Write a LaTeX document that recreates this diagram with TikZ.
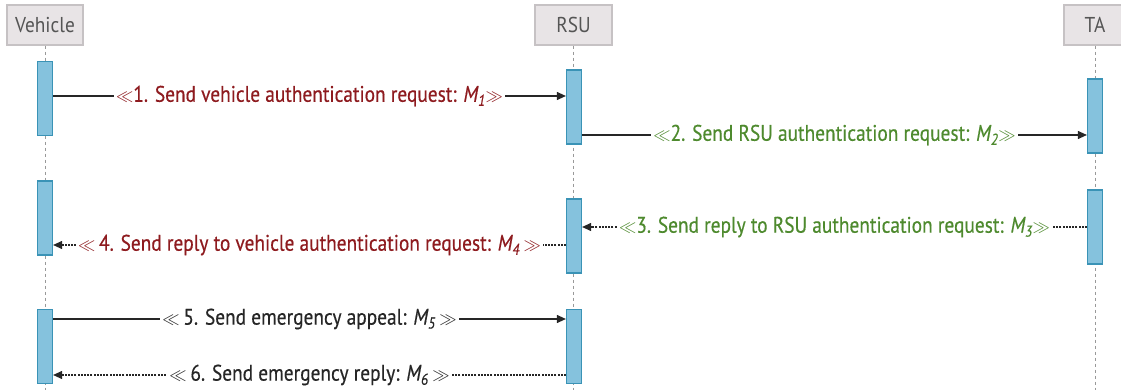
\documentclass[tikz,border=0pt]{standalone}
\usepackage{fontspec}
\setmainfont{PT Sans}
\newfontfamily\labfont[FakeStretch=0.86,FakeBold=0.4]{PT Sans}
\newfontfamily\hdrfont[FakeStretch=0.9]{PT Sans}
\usetikzlibrary{arrows.meta}
\definecolor{hdrfill}{HTML}{E8E4E6}
\definecolor{hdrdraw}{HTML}{C6C2C4}
\definecolor{hdrtext}{HTML}{555555}
\definecolor{barfill}{HTML}{85C2DD}
\definecolor{bardraw}{HTML}{3A93B6}
\definecolor{redlab}{HTML}{8E1B1F}
\definecolor{greenlab}{HTML}{4E8A2E}
\definecolor{darklab}{HTML}{262626}
\tikzset{
  hdr/.style={draw=hdrdraw, fill=hdrfill, line width=1.2pt, minimum width=76pt, minimum height=40pt, inner sep=0pt, text=hdrtext, font=\fontsize{21.5}{22}\selectfont\hdrfont},
  life/.style={draw=black!40, line width=0.7pt, dash pattern=on 3pt off 3pt},
  actbar/.style={draw=bardraw, fill=barfill, line width=1.2pt, minimum width=15pt, minimum height=74pt, inner sep=0pt},
  msg/.style={draw=black!85, line width=1.1pt, -{Triangle[length=9pt,width=8pt]}},
  rep/.style={msg, dash pattern=on 2pt off 1.2pt},
  lab/.style={fill=white, inner sep=2.5pt, font=\fontsize{22.5}{24}\selectfont\labfont},
}
\newcommand{\myopen}{{\fontsize{17}{17}\selectfont$\ll$}}
\newcommand{\myclose}{{\fontsize{17}{17}\selectfont$\gg$}}
\begin{document}
\begin{tikzpicture}[x=1pt,y=-1pt]
\useasboundingbox (0,0) rectangle (1121,390);
% headers
\node[hdr] (veh) at (45,25) {Vehicle};
\node[hdr, minimum width=77pt] (rsu) at (573.5,25) {RSU};
\node[hdr, minimum width=62pt] (ta) at (1095,25) {TA};
% lifelines
\coordinate (vend) at (45,390);
\coordinate (rend) at (573.5,390);
\coordinate (tend) at (1095,390);
\draw[life] (veh.south) -- (vend);
\draw[life] (rsu.south) -- (rend);
\draw[life] (ta.south) -- (tend);
% activation bars
\node[actbar] (vb1) at (45,98.5) {};
\node[actbar] (rb1) at (574,107) {};
\node[actbar] (tb1) at (1095,116) {};
\node[actbar] (vb2) at (45,218) {};
\node[actbar] (rb2) at (574,236) {};
\node[actbar] (tb2) at (1095,227) {};
\node[actbar] (vb3) at (45,346.5) {};
\node[actbar] (rb3) at (574,346.5) {};
% message levels
\coordinate (y1) at (0,96);
\coordinate (y2) at (0,135);
\coordinate (y3) at (0,227);
\coordinate (y4) at (0,245);
\coordinate (y5) at (0,319);
\coordinate (y6) at (0,375);
% messages
\draw[msg] (vb1.east |- y1) -- (rb1.west |- y1)
  node[midway, lab, text=redlab] {\myopen1. Send vehicle authentication request: \textit{M\textsubscript{1}}\myclose};
\draw[msg] (rb1.east |- y2) -- (tb1.west |- y2)
  node[midway, lab, text=greenlab] {\myopen2. Send RSU authentication request: \textit{M\textsubscript{2}}\myclose};
\draw[rep] (tb2.west |- y3) -- (rb2.east |- y3)
  node[midway, lab, text=greenlab] {\myopen3. Send reply to RSU authentication request: \textit{M\textsubscript{3}}\myclose};
\draw[rep] (rb2.west |- y4) -- (vb2.east |- y4)
  node[midway, lab, text=redlab] {\myopen\,4. Send reply to vehicle authentication request: \textit{M\textsubscript{4}}\,\myclose};
\draw[msg] (vb3.east |- y5) -- (rb3.west |- y5)
  node[midway, lab, text=darklab] {\myopen\,5. Send emergency appeal: \textit{M\textsubscript{5}}\,\myclose};
\draw[rep] (rb3.west |- y6) -- (vb3.east |- y6)
  node[midway, lab, text=darklab] {\myopen\,6. Send emergency reply: \textit{M\textsubscript{6}}\,\myclose};
\end{tikzpicture}
\end{document}
